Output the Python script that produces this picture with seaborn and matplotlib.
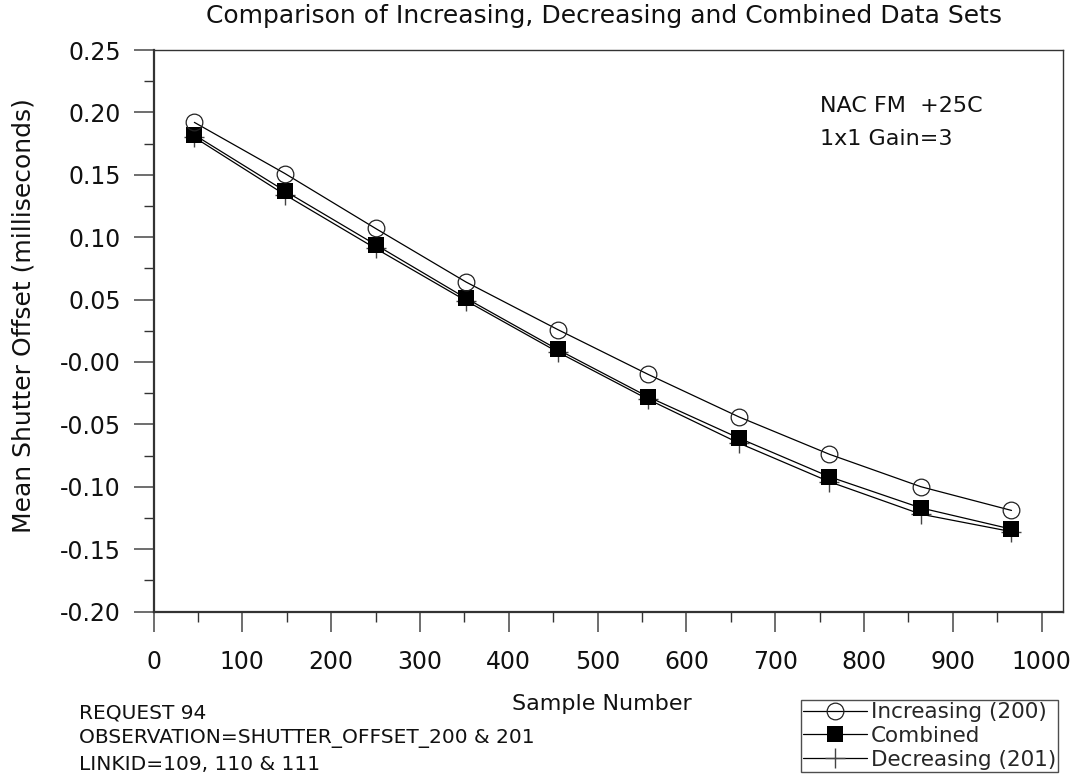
import numpy as np
import pandas as pd
import matplotlib
matplotlib.use("Agg")
import matplotlib.pyplot as plt
import seaborn as sns
from matplotlib.ticker import MultipleLocator

# ── Data ──────────────────────────────────────────────────
samples = [46, 148, 250, 352, 455, 557, 659, 761, 864, 966]
increasing = [0.192, 0.151, 0.107, 0.064, 0.026, -0.010, -0.044, -0.074, -0.100, -0.119]
combined = [0.182, 0.137, 0.094, 0.051, 0.010, -0.028, -0.061, -0.092, -0.117, -0.134]
decreasing = [0.180, 0.134, 0.091, 0.049, 0.008, -0.030, -0.065, -0.096, -0.122, -0.136]

y_ticks = [-0.20, -0.15, -0.10, -0.05, 0.0, 0.05, 0.10, 0.15, 0.20, 0.25]
y_tick_labels = ['-0.20', '-0.15', '-0.10', '-0.05', '-0.00',
                 '0.05', '0.10', '0.15', '0.20', '0.25']
x_ticks = [0, 100, 200, 300, 400, 500, 600, 700, 800, 900, 1000]

footnotes = ["REQUEST 94",
             "OBSERVATION=SHUTTER_OFFSET_200 & 201",
             "LINKID=109, 110 & 111"]
notes = ["NAC FM  +25C", "1x1 Gain=3"]

sns.set_style("ticks")
plt.rcParams['font.family'] = ['DejaVu Sans']

W, H = 1077, 781
fig = plt.figure(figsize=(W / 100, H / 100), dpi=100)
ax = fig.add_axes([153.5 / W, 1 - 611.5 / H, (1063 - 153.5) / W, (611.5 - 50) / H])

# ── Lines ─────────────────────────────────────────────────
sns.lineplot(x=samples, y=decreasing, ax=ax, color='black', linewidth=0.9,
             marker='+', markersize=15, markeredgewidth=1.0,
             markeredgecolor='#444444', label='Decreasing (201)')
sns.lineplot(x=samples, y=combined, ax=ax, color='black', linewidth=0.9,
             marker='s', markersize=11, markeredgewidth=0, markerfacecolor='black',
             label='Combined')
sns.lineplot(x=samples, y=increasing, ax=ax, color='black', linewidth=0.9,
             marker='o', markersize=12, markeredgewidth=0.9, markerfacecolor='none',
             markeredgecolor='#222222', label='Increasing (200)')
ax.get_legend().remove()

# ── Axes ──────────────────────────────────────────────────
ax.set_xlim(0, 1024)
ax.set_ylim(-0.20, 0.25)
ax.set_xticks(x_ticks)
ax.set_yticks(y_ticks)
ax.set_yticklabels(y_tick_labels)
ax.xaxis.set_minor_locator(MultipleLocator(50))
ax.yaxis.set_minor_locator(MultipleLocator(0.025))
ax.tick_params(which='major', direction='out', length=14.5, width=1.2,
               color='#555555', labelsize=17, pad=9, labelcolor='#111111')
ax.tick_params(which='minor', direction='out', length=7.5, width=1.0, color='#333333')
ax.tick_params(axis='x', which='major', pad=13)

for side in ['left', 'bottom']:
    ax.spines[side].set_linewidth(1.6)
    ax.spines[side].set_color('#333333')
for side in ['top', 'right']:
    ax.spines[side].set_linewidth(1.0)
    ax.spines[side].set_color('#333333')

ax.set_xlabel('')
ax.set_ylabel('')

# ── Text ──────────────────────────────────────────────────
fig.text(604 / W, 1 - 16 / H, 'Comparison of Increasing, Decreasing and Combined Data Sets',
         ha='center', va='center', fontsize=18, color='#111111')
fig.text(24 / W, 1 - 316 / H, 'Mean Shutter Offset (milliseconds)',
         rotation=90, ha='center', va='center', fontsize=18, color='#111111')
fig.text(602 / W, 1 - 704 / H, 'Sample Number', ha='center', va='center',
         fontsize=16, color='#111111')
for i, line in enumerate(notes):
    fig.text(820 / W, 1 - (106 + 33 * i) / H, line, ha='left', va='center',
             fontsize=16, color='#111111')

for i, line in enumerate(footnotes):
    fig.text(79 / W, 1 - (713 + 26 * i) / H, line, ha='left', va='center',
             fontsize=14.5, color='#111111')

# ── Legend ────────────────────────────────────────────────
handles, labels = ax.get_legend_handles_labels()
order = [labels.index('Increasing (200)'), labels.index('Combined'),
         labels.index('Decreasing (201)')]
leg = fig.legend([handles[i] for i in order], [labels[i] for i in order],
                 loc='lower right', bbox_to_anchor=(1058 / W, 1 - 772 / H),
                 fontsize=15.5, frameon=True, fancybox=False, shadow=False,
                 edgecolor='#222222', borderpad=0.1, labelspacing=0.18,
                 handlelength=3.0, handletextpad=0.15, borderaxespad=0)
leg.get_frame().set_linewidth(1.0)

fig.savefig('out.png', dpi=100)
